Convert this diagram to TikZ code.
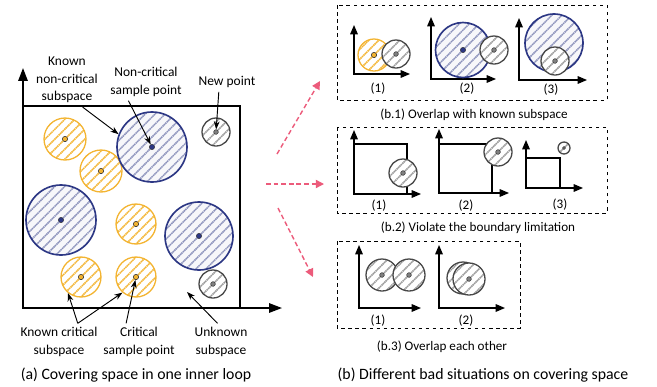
\documentclass[tikz,border=0pt]{standalone}
\usepackage{fontspec}
\setmainfont{Carlito}
\usepackage{tikz}
\usetikzlibrary{arrows.meta}

\definecolor{critorange}{HTML}{F3B431}
\definecolor{safeblue}{HTML}{2C3784}
\definecolor{newgray}{HTML}{474747}
\definecolor{badpink}{HTML}{EC5B7B}

\begin{document}
\begin{tikzpicture}[
        x=0.03cm, y=-0.03cm, font=\fontsize{11.5}{15}\selectfont,
        hatch/.style={path picture={
            \foreach \k in {-7,...,7}
                \draw[#1, line width=1.3pt, dash pattern=on 1.2pt off 0.5pt]
                    ([xshift=\k*8.5pt-45pt, yshift=-45pt]path picture bounding box.center) -- ++(90pt,90pt);
        }},
        critsub/.style={circle, draw=critorange, fill=white, line width=1.1pt, inner sep=0pt, minimum size=2*#1*0.03cm, hatch=critorange},
        safesub/.style={circle, draw=safeblue, fill=safeblue!4, line width=1.4pt, inner sep=0pt, minimum size=2*#1*0.03cm, hatch=safeblue!55},
        newsub/.style={circle, draw=newgray, fill=white, line width=1.1pt, inner sep=0pt, minimum size=2*#1*0.03cm, hatch=gray!80},
        critdot/.style={circle, fill=critorange, draw=black!80, line width=0.5pt, inner sep=0pt, minimum size=4.5pt},
        safedot/.style={circle, fill=safeblue, draw=black!80, line width=0.4pt, inner sep=0pt, minimum size=4.5pt},
        newdot/.style={circle, fill=gray, draw=black!80, line width=0.4pt, inner sep=0pt, minimum size=4pt},
        axisarrow/.style={{Triangle[length=11pt, width=8pt]}-{Triangle[length=11pt, width=8pt]}, line width=1.4pt, line join=miter},
        miniaxis/.style={{Triangle[length=8pt, width=6.5pt]}-{Triangle[length=8pt, width=6.5pt]}, line width=1.1pt, line join=miter},
        pointer/.style={-{Stealth[length=7pt, width=5pt]}, line width=0.8pt},
        badarrow/.style={-{Triangle[length=7pt, width=7pt]}, line width=1.2pt, badpink, dash pattern=on 4pt off 2.5pt},
        panel/.style={draw, dashed, line width=0.7pt},
        bigcap/.style={font=\fontsize{13.5}{15}\selectfont},
        smallcap/.style={font=\fontsize{11.2}{13}\selectfont},
        note/.style={align=center},
    ]
    \useasboundingbox (0,0) rectangle (657,386);

    % --- (a) covering space ---
    \coordinate (O) at (23,308);
    \draw[line width=1.3pt] (23,106) rectangle (240,308);
    \draw[axisarrow] (23,68) -- (O) -- (282,308);

    \foreach \n/\x/\y/\r in {1/65/139/21, 2/101/171/21, 3/136/224/20, 4/81/277/20, 5/136/277/20} {
        \node[critsub=\r] (crit\n) at (\x,\y) {};
        \node[critdot] (cdot\n) at (crit\n) {};
    }
    \foreach \n/\x/\y/\r in {1/152/147/35, 2/61/220/35, 3/199/236/34} {
        \node[safesub=\r] (safe\n) at (\x,\y) {};
        \node[safedot] (sdot\n) at (safe\n) {};
    }
    \foreach \n/\x/\y/\r in {1/216/132/14, 2/213/284/14} {
        \node[newsub=\r] (new\n) at (\x,\y) {};
        \node[newdot] (ndot\n) at (new\n) {};
    }

    % --- labels of (a) ---
    \node[note] (lblknc) at (67,80) {Known\\non-critical\\subspace};
    \node[note] (lblncs) at (146,82) {Non-critical\\sample point};
    \node[note] (lblnew) at (227,82) {New point};
    \node[note] (lblkc) at (59,342) {Known critical\\subspace};
    \node[note] (lblcs) at (139,342) {Critical\\sample point};
    \node[note] (lblunk) at (221,342) {Unknown\\subspace};
    \coordinate (unkpt) at (187,292);

    \draw[pointer] (lblknc.-60) -- (safe1.159);
    \draw[pointer] ([xshift=-15pt]lblncs.south) -- (sdot1);
    \draw[pointer] ([xshift=-7pt]lblnew.south) -- (ndot1);
    \draw[pointer] ([xshift=16pt]lblkc.north) -- (crit4.231);
    \draw[pointer] ([xshift=16pt]lblkc.north) -- (crit5.229);
    \draw[pointer] ([xshift=-11pt]lblcs.north) -- (cdot5);
    \draw[pointer] ([xshift=-3pt]lblunk.north) -- (unkpt);

    \node[bigcap] (capa) at (136,375) {(a) Covering space in one inner loop};

    % --- arrows to (b) ---
    \coordinate (ps1) at (277,154); \coordinate (pe1) at (320,81);
    \coordinate (ps2) at (266,184); \coordinate (pe2) at (324,184);
    \coordinate (ps3) at (278,208); \coordinate (pe3) at (313,277);
    \foreach \i in {1,2,3}
        \draw[badarrow] (ps\i) -- (pe\i);

    % --- (b.1) overlap with known subspace ---
    \draw[panel] (337,5) rectangle (607,100);
    \draw[miniaxis] (354,25) -- (354,74) -- (410,74);
    \node[critsub=16] (bacrit) at (374,55) {};
    \node[critdot] at (bacrit) {};
    \node[newsub=14] (banew) at (396,54) {};
    \node[newdot] at (banew) {};
    \node[smallcap] (ba1) at (378,89) {(1)};

    \draw[miniaxis] (431,17) -- (431,79) -- (496,79);
    \node[safesub=27.5] (basafe) at (463,50) {};
    \node[safedot] at (basafe) {};
    \node[newsub=14] (banewb) at (494,50) {};
    \node[newdot] at (banewb) {};
    \node[smallcap] (ba2) at (467,89) {(2)};

    \draw[miniaxis] (519,18) -- (519,80) -- (587,80);
    \node[safesub=29] (basafec) at (554,43) {};
    \node[newsub=14] (banewc) at (555,61) {};
    \node[newdot] at (banewc) {};
    \node[smallcap] (ba3) at (551,90) {(3)};
    \node[smallcap] (capb1) at (474,115) {(b.1) Overlap with known subspace};

    % --- (b.2) violate the boundary limitation ---
    \draw[panel] (337,127) rectangle (607,213);
    \draw[miniaxis] (354,130) -- (354,194) -- (421,194);
    \draw[line width=1.1pt] (354,144) -| (407,194);
    \node[newsub=14] (bbnew) at (403,173) {};
    \node[newdot] at (bbnew) {};
    \node[smallcap] (bb1) at (379,206) {(1)};

    \draw[miniaxis] (439,129) -- (439,193) -- (509,193);
    \draw[line width=1.1pt] (439,144) -| (492,193);
    \node[newsub=14] (bbnewb) at (498,152) {};
    \node[newdot] at (bbnewb) {};
    \node[smallcap] (bb2) at (466,206) {(2)};

    \draw[miniaxis] (526,140) -- (526,188) -- (583,188);
    \draw[line width=1.1pt] (526,158) -| (560,188);
    \node[newsub=6] (bbnewc) at (564,148) {};
    \node[newdot, minimum size=2.5pt] at (bbnewc) {};
    \node[smallcap] (bb3) at (560,205) {(3)};
    \node[smallcap] (capb2) at (478,228) {(b.2) Violate the boundary limitation};

    % --- (b.3) overlap each other ---
    \draw[panel] (337,241) rectangle (520,328);
    \draw[miniaxis] (359,245) -- (359,308) -- (421,308);
    \node[newsub=16] (bcnew) at (382,275) {};
    \node[newdot] at (bcnew) {};
    \node[newsub=16] (bcnewb) at (409,275) {};
    \node[newdot] at (bcnewb) {};
    \node[smallcap] (bc1) at (378,321) {(1)};

    \draw[miniaxis] (439,245) -- (439,308) -- (505,308);
    \node[newsub=16] (bcnewc) at (463,278) {};
    \node[newsub=16] (bcnewd) at (469,279) {};
    \node[newdot] at (bcnewd) {};
    \node[smallcap] (bc2) at (466,321) {(2)};
    \node[smallcap] (capb3) at (442,347) {(b.3) Overlap each other};

    \node[bigcap] (capb) at (483,375) {(b) Different bad situations on covering space};
\end{tikzpicture}
\end{document}
